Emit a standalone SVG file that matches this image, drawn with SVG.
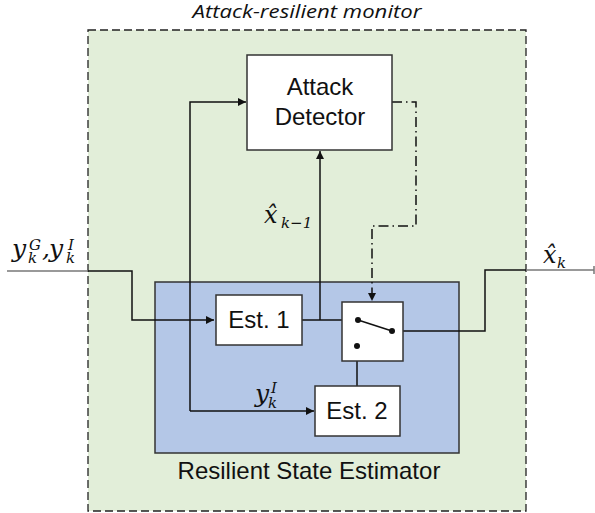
<svg xmlns="http://www.w3.org/2000/svg" width="595" height="513" viewBox="0 0 595 513">
<defs>
<style>
.box{fill:#fff;stroke:#333;stroke-width:1.5}
.lbl{font-family:"Liberation Sans",Arial,sans-serif;font-size:24px;fill:#111;text-anchor:middle}
.math{font-family:"DejaVu Serif","Liberation Serif",serif;font-style:italic;fill:#111}
.s{font-size:15px}
.w{fill:none;stroke:#111;stroke-width:1.5}
.g{fill:none;stroke:#777;stroke-width:1.5}
</style>
<marker id="ah" viewBox="0 0 10 10" refX="10" refY="5" markerWidth="8" markerHeight="8" markerUnits="userSpaceOnUse" orient="auto">
<path d="M0,0 L10,5 L0,10 Z" fill="#111"/>
</marker>
</defs>
<rect width="595" height="513" fill="#fff"/>
<g id="monitor">
<rect x="88" y="30" width="438" height="481" fill="#e2eed9" stroke="#222" stroke-width="1.3" stroke-dasharray="8,4"/>
<text x="307" y="18" font-family="'Open Sans','Liberation Sans',sans-serif" font-style="italic" font-size="18" text-anchor="middle" textLength="229" lengthAdjust="spacingAndGlyphs" fill="#111">Attack-resilient monitor</text>
</g>
<g id="estimator">
<rect x="155" y="282" width="304" height="171" fill="#b4c7e7" stroke="#333" stroke-width="1.5"/>
<text class="lbl" x="309" y="479">Resilient State Estimator</text>
</g>
<g id="connectors">
<polyline class="g" points="7,271 88,271"/>
<polyline class="w" points="88,271 132,271 132,320 214,320" marker-end="url(#ah)"/>
<polyline class="w" points="190,411 190,102 246,102" marker-end="url(#ah)"/>
<polyline class="w" points="190,411 314,411" marker-end="url(#ah)"/>
<polyline class="w" points="302,320 358,320"/>
<polyline class="w" points="320,320 320,151" marker-end="url(#ah)"/>
<polyline class="w" points="357,346 357,386"/>
<polyline class="w" points="403,331 485,331 485,270 526,270"/>
<polyline class="g" points="526,270 594,270"/>
<line x1="594" y1="266" x2="594" y2="274" stroke="#777" stroke-width="1.5"/>
<polyline fill="none" stroke="#111" stroke-width="1.5" stroke-dasharray="10,4,1.5,4" points="392,102 416,102 416,226 372,226 372,301" marker-end="url(#ah)"/>
</g>
<g id="detector">
<rect class="box" x="247" y="55" width="145" height="95"/>
<text class="lbl" x="320" y="95">Attack</text>
<text class="lbl" x="320" y="125">Detector</text>
</g>
<g id="est1">
<rect class="box" x="216" y="295" width="86" height="50"/>
<text class="lbl" x="259" y="328">Est. 1</text>
</g>
<g id="est2">
<rect class="box" x="315" y="386" width="85" height="50"/>
<text class="lbl" x="357" y="419">Est. 2</text>
</g>
<g id="switch">
<rect class="box" x="342" y="302" width="61" height="59"/>
<line x1="358" y1="320" x2="392" y2="331" stroke="#111" stroke-width="1.5"/>
<circle cx="358" cy="320" r="3" fill="#111"/>
<circle cx="392" cy="331" r="3" fill="#111"/>
<circle cx="357" cy="346" r="3" fill="#111"/>
</g>
<g id="labels">
<text class="math" x="12" y="257" font-size="25">y<tspan class="s" x="29" y="250">G</tspan><tspan class="s" x="28" y="263">k</tspan><tspan x="42" y="257">,</tspan><tspan x="49" y="257">y</tspan><tspan class="s" x="68" y="250">I</tspan><tspan class="s" x="66" y="263">k</tspan></text>
<text class="math" x="543" y="263" font-size="24">x̂<tspan class="s" x="557" y="268">k</tspan></text>
<text class="math" x="264" y="223" font-size="24">x̂<tspan class="s" x="281" y="228">k−1</tspan></text>
<text class="math" x="255" y="402" font-size="25">y<tspan class="s" x="271" y="393">I</tspan><tspan class="s" x="268" y="408">k</tspan></text>
</g>
</svg>
